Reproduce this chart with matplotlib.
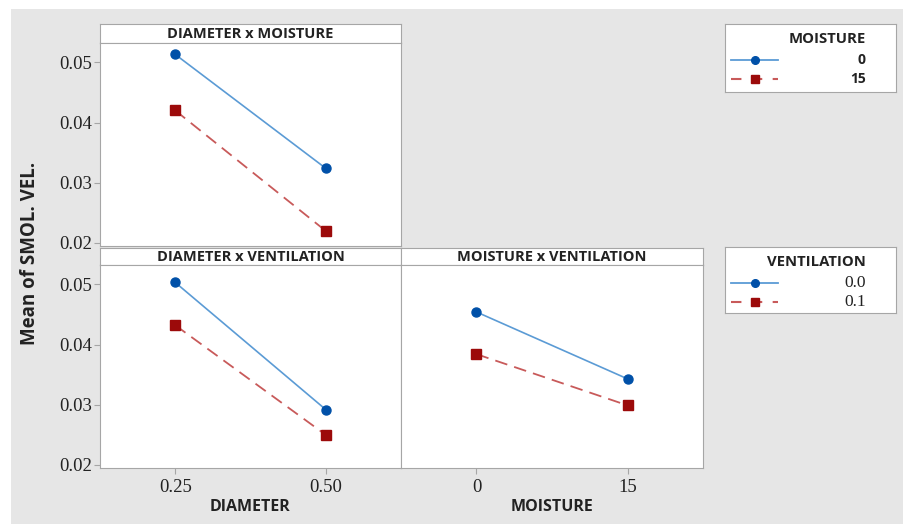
import matplotlib.pyplot as plt
from matplotlib.patches import Rectangle
from matplotlib.lines import Line2D

# interaction means of SMOL. VEL.
diam_labels = ["0.25", "0.50"]
moist_levels = [0, 15]
vent_labels = ["0.0", "0.1"]
moist_labels = ["0", "15"]

dm_moist0 = [0.0513, 0.0324]
dm_moist15 = [0.0420, 0.0220]
dv_vent00 = [0.0503, 0.0292]
dv_vent01 = [0.0432, 0.0250]
mv_vent00 = [0.0454, 0.0343]
mv_vent01 = [0.0384, 0.0299]

W, H = 904, 524
BLUE_LINE, BLUE_MK = "#5b9bd5", "#0050a8"
RED_LINE, RED_MK = "#c85a5a", "#9c0a0a"
FRAME = "#a6a6a6"
BG = "#e6e6e6"
TXT = "#222222"
SERIF = "Liberation Serif"
SANS = "Open Sans"

fig = plt.figure(figsize=(W / 100, H / 100), dpi=100, facecolor="white")
fig.patches.append(Rectangle((11 / W, 0), 1, 1 - 9 / H, transform=fig.transFigure,
                             facecolor=BG, edgecolor="none", zorder=-10))


def px(x0, y0, x1, y1):
    return [x0 / W, 1 - y1 / H, (x1 - x0) / W, (y1 - y0) / H]


def strip(x0, y0, x1, y1, title):
    ax = fig.add_axes(px(x0, y0, x1, y1))
    ax.set_xticks([]); ax.set_yticks([])
    for s in ax.spines.values():
        s.set_color(FRAME)
    ax.text(0.5, 0.45, title, ha="center", va="center", fontsize=10.5, fontweight="bold",
            family=SANS, color=TXT, transform=ax.transAxes)


def panel(x0, y0, x1, y1, levels, s1, s2, yticks=True):
    ax = fig.add_axes(px(x0, y0, x1, y1))
    pos = [0, 1]
    ax.plot(pos, s1, color=BLUE_LINE, lw=1.2, marker="o", ms=6.5, mfc=BLUE_MK, mec=BLUE_MK)
    ax.plot(pos, s2, color=RED_LINE, lw=1.3, ls=(0, (7, 4)), marker="s", ms=6.5,
            mfc=RED_MK, mec=RED_MK)
    ax.set_xlim(-0.5, 1.5)
    ax.set_ylim(0.0195, 0.0532)
    for s in ax.spines.values():
        s.set_color(FRAME)
    ax.set_yticks([0.02, 0.03, 0.04, 0.05])
    if yticks:
        ax.set_yticklabels(["0.02", "0.03", "0.04", "0.05"], family=SERIF, fontsize=13.5,
                           color=TXT)
        ax.tick_params(axis="y", length=4, color=FRAME, pad=2)
    else:
        ax.tick_params(axis="y", length=0, labelleft=False)
    if levels is not None:
        ax.set_xticks(pos)
        ax.set_xticklabels(levels, family=SERIF, fontsize=13.5, color=TXT)
        ax.tick_params(axis="x", length=4, color=FRAME, pad=4)
    else:
        ax.set_xticks([])
    return ax


strip(100, 24, 401, 43, "DIAMETER x MOISTURE")
panel(100, 43, 401, 246, None, dm_moist0, dm_moist15)

strip(100, 248, 401, 265, "DIAMETER x VENTILATION")
panel(100, 265, 401, 468, diam_labels, dv_vent00, dv_vent01)

strip(401, 248, 703, 265, "MOISTURE x VENTILATION")
panel(401, 265, 703, 468, [str(m) for m in moist_levels], mv_vent00, mv_vent01, yticks=False)

fig.text(250 / W, 1 - 507 / H, "DIAMETER", ha="center", va="center", fontsize=11.5,
         fontweight="bold", family=SANS, color=TXT)
fig.text(552 / W, 1 - 507 / H, "MOISTURE", ha="center", va="center", fontsize=11.5,
         fontweight="bold", family=SANS, color=TXT)
fig.text(30 / W, 1 - 253 / H, "Mean of SMOL. VEL.", ha="center", va="center", rotation=90,
         fontsize=13.5, fontweight="bold", family=SANS, color=TXT)


def legend_box(x0, y0, x1, y1, title, labels, label_family, label_weight, label_size):
    ax = fig.add_axes(px(x0, y0, x1, y1))
    ax.set_xlim(x0, x1); ax.set_ylim(y1, y0)
    ax.set_xticks([]); ax.set_yticks([])
    for s in ax.spines.values():
        s.set_color(FRAME)
    ax.text(866, y0 + 15, title, ha="right", va="center", fontsize=10.7, fontweight="bold",
            family=SANS, color=TXT)
    ys = [y0 + 36, y0 + 55]
    ax.add_line(Line2D([731, 755, 778], [ys[0]] * 3, color=BLUE_LINE, lw=1.3, marker="o",
                       ms=5.5, mfc=BLUE_MK, mec=BLUE_MK, markevery=[1]))
    ax.add_line(Line2D([731, 755, 778], [ys[1]] * 3, color=RED_LINE, lw=1.5, ls=(0, (5, 5)),
                       marker="s", ms=5.5, mfc=RED_MK, mec=RED_MK, markevery=[1]))
    for y, lab in zip(ys, labels):
        ax.text(866, y, lab, ha="right", va="center", fontsize=label_size,
                fontweight=label_weight, family=label_family, color=TXT)


legend_box(725, 24, 896, 92, "MOISTURE", moist_labels, SANS, "bold", 10)
legend_box(725, 247, 896, 313, "VENTILATION", vent_labels, SERIF, "normal", 12.5)

fig.savefig("out.png", dpi=100, facecolor=fig.get_facecolor())
